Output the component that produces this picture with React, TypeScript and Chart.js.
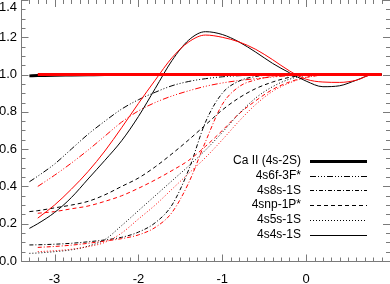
import React, { useEffect, useRef } from 'react';
import { Chart, registerables } from 'chart.js';

Chart.register(...registerables);

// log-depth grid shared by all curves
const X = [-3.3, -3.2, -3.0, -2.8, -2.6, -2.4, -2.2, -2.0, -1.8, -1.6, -1.4, -1.2, -1.0, -0.8, -0.6, -0.4, -0.2, 0.0, 0.2, 0.4, 0.6, 0.8, 0.9];

const caII_black = [0.993, 0.995, 0.997, 0.998, 0.999, 1, 1, 1, 1, 1, 1, 1, 1, 1, 1, 1, 1, 1, 1, 1, 1, 1, 1];
const caII_red = [null, 1, 1, 1, 1, 1, 1, 1, 1, 1, 1, 1, 1, 1, 1, 1, 1, 1, 1, 1, 1, 1, 1];

const s4s4s_black = [0.175, 0.2, 0.26, 0.34, 0.44, 0.54, 0.645, 0.775, 0.925, 1.075, 1.185, 1.23, 1.215, 1.175, 1.12, 1.06, 1.01, 0.965, 0.935, 0.94, 0.97, 1.0, 1.0];
const s4s4s_red = [null, 0.23, 0.3, 0.385, 0.48, 0.59, 0.715, 0.845, 0.97, 1.09, 1.175, 1.212, 1.2, 1.175, 1.135, 1.08, 1.02, 0.975, 0.96, 0.958, 0.97, 1.0, 1.0];

const s4s6f_black = [0.425, 0.455, 0.52, 0.6, 0.68, 0.75, 0.815, 0.865, 0.905, 0.94, 0.963, 0.978, 0.988, 0.994, 0.997, 1, 1, 1, 1, 1, 1, 1, 1];
const s4s6f_red = [null, 0.4, 0.46, 0.525, 0.595, 0.67, 0.745, 0.805, 0.85, 0.885, 0.913, 0.937, 0.955, 0.968, 0.978, 0.987, 0.994, 0.998, 1, 1, 1, 1, 1];

const s4s8s_black = [0.086, 0.087, 0.09, 0.095, 0.103, 0.113, 0.127, 0.155, 0.205, 0.3, 0.49, 0.745, 0.9, 0.965, 0.99, 0.998, 1, 1, 1, 1, 1, 1, 1];
const s4s8s_red = [null, 0.073, 0.078, 0.085, 0.095, 0.107, 0.12, 0.14, 0.18, 0.26, 0.42, 0.64, 0.84, 0.935, 0.972, 0.99, 0.998, 1, 1, 1, 1, 1, 1];

const s4snp_black = [0.265, 0.27, 0.285, 0.3, 0.32, 0.355, 0.4, 0.445, 0.505, 0.575, 0.65, 0.73, 0.81, 0.875, 0.925, 0.96, 0.985, 0.997, 1, 1, 1, 1, 1];
const s4snp_red = [null, 0.256, 0.265, 0.28, 0.295, 0.32, 0.35, 0.39, 0.435, 0.485, 0.54, 0.615, 0.7, 0.79, 0.86, 0.92, 0.96, 0.985, 0.997, 1, 1, 1, 1];

const s4s5s_black = [0.041, 0.043, 0.05, 0.06, 0.08, 0.115, 0.19, 0.27, 0.35, 0.43, 0.51, 0.595, 0.69, 0.79, 0.875, 0.935, 0.975, 0.995, 1, 1, 1, 1, 1];
const s4s5s_red = [null, 0.05, 0.055, 0.063, 0.077, 0.1, 0.15, 0.225, 0.3, 0.385, 0.47, 0.555, 0.65, 0.75, 0.84, 0.91, 0.955, 0.985, 0.998, 1, 1, 1, 1];

const LEGEND_LABELS = ['Ca II (4s-2S)', '4s6f-3F*', '4s8s-1S', '4snp-1P*', '4s5s-1S', '4s4s-1S'];
const X_TICK_LABELS = ['-3', '-2', '-1', '0'];
const Y_TICK_LABELS = ['0.0', '0.2', '0.4', '0.6', '0.8', '1.0', '1.2', '1.4'];

const FONT = "'Liberation Sans', Arial, Helvetica, sans-serif";
const AXIS_COLOR = '#7a7a7a';

const STYLE_SOLID: number[] = [];
const STYLE_DOT = [1, 2];
const STYLE_DASH = [4, 3];
const STYLE_DASHDOT = [4, 2, 1, 2];
const STYLE_DASH3DOT = [6, 2, 1, 2, 1, 2, 1, 2];

const series = [
  { label: LEGEND_LABELS[0], black: caII_black, red: caII_red, dash: STYLE_SOLID, width: 3 },
  { label: LEGEND_LABELS[5], black: s4s4s_black, red: s4s4s_red, dash: STYLE_SOLID, width: 1 },
  { label: LEGEND_LABELS[4], black: s4s5s_black, red: s4s5s_red, dash: STYLE_DOT, width: 1 },
  { label: LEGEND_LABELS[3], black: s4snp_black, red: s4snp_red, dash: STYLE_DASH, width: 1 },
  { label: LEGEND_LABELS[2], black: s4s8s_black, red: s4s8s_red, dash: STYLE_DASHDOT, width: 1 },
  { label: LEGEND_LABELS[1], black: s4s6f_black, red: s4s6f_red, dash: STYLE_DASH3DOT, width: 1 },
];

const legendStyles: Record<string, { dash: number[]; width: number }> = {};
series.forEach((s) => { legendStyles[s.label] = { dash: s.dash, width: s.width }; });

function makeDataset(label: string, ys: (number | null)[], color: string, dash: number[], width: number) {
  return {
    label,
    data: X.map((x, i) => ({ x, y: ys[i] })),
    borderColor: color,
    backgroundColor: color,
    borderWidth: width,
    borderDash: dash,
    pointRadius: 0,
    fill: false,
    cubicInterpolationMode: 'monotone' as const,
    spanGaps: false,
  };
}

const framePlugin = {
  id: 'idlFrame',
  afterDatasetsDraw(chart: any) {
    const { ctx, chartArea: a, scales } = chart;
    const xs = scales.x;
    const ys = scales.y;
    ctx.save();
    ctx.strokeStyle = AXIS_COLOR;
    ctx.lineWidth = 1;
    ctx.setLineDash([]);
    // frame: left and bottom axis lines (top/right fall on the image edge)
    ctx.beginPath();
    ctx.moveTo(a.left + 0.5, a.top);
    ctx.lineTo(a.left + 0.5, a.bottom + 0.5);
    ctx.lineTo(a.right, a.bottom + 0.5);
    ctx.stroke();
    // x ticks (bottom & top)
    ctx.beginPath();
    for (let k = -34; k <= 10; k++) {
      const px = Math.round(xs.getPixelForValue(k / 10)) + 0.5;
      const major = k % 10 === 0;
      const len = major ? 7 : 4;
      ctx.moveTo(px, a.bottom + 0.5);
      ctx.lineTo(px, a.bottom + 0.5 - len);
      ctx.moveTo(px, a.top);
      ctx.lineTo(px, a.top + len);
    }
    // y ticks (left & right)
    for (let k = 0; k <= 28; k++) {
      const py = Math.round(ys.getPixelForValue(k * 0.05)) + 0.5;
      const major = k % 4 === 0;
      const len = major ? 7 : 4;
      ctx.moveTo(a.left + 0.5, py);
      ctx.lineTo(a.left + 0.5 + len, py);
      ctx.moveTo(a.right, py);
      ctx.lineTo(a.right - len, py);
    }
    ctx.stroke();

    // top y label (kept inside the canvas)
    ctx.fillStyle = '#000';
    ctx.font = `13px ${FONT}`;
    ctx.textAlign = 'right';
    ctx.textBaseline = 'middle';
    ctx.fillText(Y_TICK_LABELS[7], a.left - 4, a.top + 7);

    // legend
    ctx.font = `12px ${FONT}`;
    const textRight = a.left + 280;
    const lineL = a.left + 289;
    const lineR = a.left + 346;
    LEGEND_LABELS.forEach((lab, i) => {
      const y = a.top + 161 + i * 14.7;
      ctx.fillStyle = '#000';
      ctx.fillText(lab, textRight, y);
      const st = legendStyles[lab];
      ctx.strokeStyle = '#000';
      ctx.lineWidth = st.width;
      ctx.setLineDash(st.dash);
      ctx.beginPath();
      const yy = st.width % 2 === 1 ? Math.round(y) + 0.5 : Math.round(y);
      ctx.moveTo(lineL, yy);
      ctx.lineTo(lineR, yy);
      ctx.stroke();
    });
    ctx.restore();
  },
};

export default function App() {
  const ref = useRef<HTMLCanvasElement | null>(null);
  useEffect(() => {
    if (!ref.current) return;
    const datasets: any[] = [];
    series.forEach((s) => {
      datasets.push(makeDataset(s.label + ' (red)', s.red, '#ff0000', s.dash, s.width));
      datasets.push(makeDataset(s.label, s.black, '#000000', s.dash, s.width));
    });
    const chart = new Chart(ref.current, {
      type: 'line',
      data: { datasets },
      options: {
        responsive: false,
        animation: false,
        events: [],
        layout: { padding: 0 },
        font: { family: FONT },
        plugins: { legend: { display: false }, tooltip: { enabled: false } },
        scales: {
          x: {
            type: 'linear',
            min: -3.4,
            max: 1.0,
            grid: { display: false, drawTicks: false },
            border: { display: false },
            ticks: {
              stepSize: 1,
              includeBounds: false,
              autoSkip: false,
              maxRotation: 0,
              padding: 11,
              color: '#000',
              font: { family: FONT, size: 13 },
              callback: (v: any) => {
                const n = Number(v);
                const r = Math.round(n);
                if (Math.abs(n - r) > 1e-6 || r < -3 || r > 0) return '';
                return X_TICK_LABELS[r + 3];
              },
            },
            afterFit: (s: any) => {
              s.height = 23;
              s.paddingLeft = 0;
              s.paddingRight = 0;
            },
          },
          y: {
            type: 'linear',
            min: 0,
            max: 1.4,
            grid: { display: false, drawTicks: false },
            border: { display: false },
            ticks: {
              stepSize: 0.2,
              includeBounds: false,
              autoSkip: false,
              padding: 4,
              color: '#000',
              font: { family: FONT, size: 13 },
              callback: (v: any) => {
                const k = Math.round(Number(v) / 0.2);
                if (k < 0 || k > 6) return '';
                return Y_TICK_LABELS[k];
              },
            },
            afterFit: (s: any) => {
              s.width = 21;
              s.paddingTop = 0;
              s.paddingBottom = 0;
            },
          },
        },
      },
      plugins: [framePlugin],
    });
    return () => chart.destroy();
  }, []);
  return (
    <div style={{ position: 'fixed', left: 0, top: 0, width: 390, height: 284, background: '#fff' }}>
      <canvas ref={ref} width={390} height={284} style={{ display: 'block' }} />
    </div>
  );
}
